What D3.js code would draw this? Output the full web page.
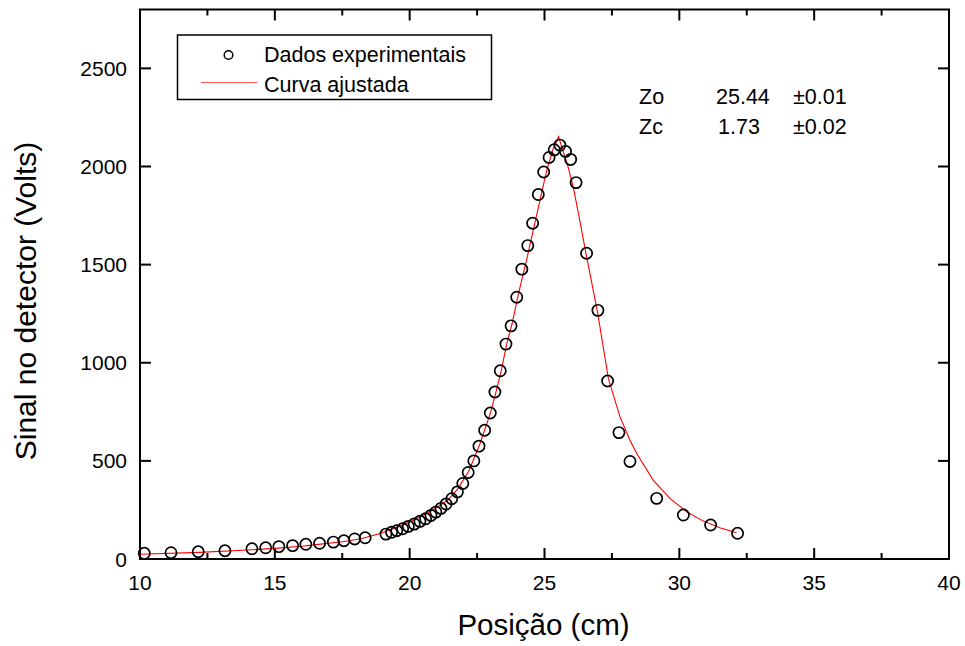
<!DOCTYPE html>
<meta charset="utf-8">
<style>
  body { margin: 0; background: #fff; }
  text { font-family: "Liberation Sans", Arial, sans-serif; fill: #000; }
</style>
<div id="chart"></div>
<script src="https://d3js.org/d3.v7.min.js"></script>
<script>

    // measured points
    var posX = [10.16, 11.15, 12.16, 13.15, 14.15, 14.66, 15.15, 15.66, 16.15, 16.66,
                17.17, 17.56, 17.96, 18.35, 19.12, 19.33, 19.52, 19.74, 19.95, 20.17,
                20.38, 20.59, 20.79, 20.97, 21.16, 21.35, 21.56, 21.77, 21.97, 22.17,
                22.38, 22.57, 22.78, 22.99, 23.16, 23.36, 23.57, 23.76, 23.97, 24.16,
                24.38, 24.56, 24.77, 24.97, 25.17, 25.36, 25.57, 25.78, 25.97, 26.17,
                26.56, 26.98, 27.34, 27.76, 28.17, 29.16, 30.15, 31.16, 32.16];
    var sinal = [29, 32, 37, 42, 52, 57, 63, 68, 75, 80,
                 86, 93, 102, 108, 127, 136, 144, 154, 166, 178,
                 192, 205, 222, 239, 258, 280, 307, 342, 385, 441,
                 500, 575, 656, 744, 851, 959, 1095, 1188, 1334, 1477,
                 1597, 1711, 1857, 1972, 2046, 2085, 2109, 2077, 2036, 1918,
                 1558, 1267, 907, 644, 497, 309, 224, 173, 131];

    // fitted curve
    var fitX = [10.0, 12.2, 14.0, 15.0, 16.0, 16.7, 17.5, 18.2, 18.9, 19.6,
                20.1, 20.6, 21.0, 21.4, 21.8, 22.2, 22.6, 23.0, 23.2, 23.4,
                23.6, 23.8, 24.0, 24.15, 24.36, 24.58, 24.83, 25.08, 25.32, 25.52,
                25.88, 26.07, 26.31, 26.54, 26.96, 27.37, 27.8, 28.17, 28.42, 29.03,
                29.65, 30.27, 30.89, 31.5, 32.12];
    var fitY = [24, 34, 46, 54, 65, 76, 88, 103, 130, 165,
                195, 230, 262, 298, 360, 450, 585, 746, 850, 961,
                1097, 1200, 1331, 1419, 1538, 1674, 1826, 1979, 2089, 2152,
                1995, 1894, 1724, 1555, 1263, 919, 724, 605, 538, 402,
                309, 241, 193, 159, 134];

    var xTicks = [10, 15, 20, 25, 30, 35, 40];
    var xMinor = [12.5, 17.5, 22.5, 27.5, 32.5, 37.5];
    var yTicks = [0, 500, 1000, 1500, 2000, 2500];

    var params = [["Zo", "25.44", "\u00b10.01"],
                  ["Zc", "1.73", "\u00b10.02"]];

    var width = 965, height = 646;
    var margin = {top: 9.5, right: 16, bottom: 87, left: 140};

    var svg = d3.select("#chart").append("svg")
                .attr("width", width)
                .attr("height", height);

    var x = d3.scaleLinear().domain([10, 40]).range([margin.left, width - margin.right]);
    var y = d3.scaleLinear().domain([0, 2800]).range([height - margin.bottom, margin.top]);

    var x0 = x.range()[0], x1 = x.range()[1];
    var y0 = y.range()[0], y1 = y.range()[1];

    // ticks, pointing inward on all four sides
    var tk = svg.append("g").attr("stroke", "#000").attr("stroke-width", 2);
    xTicks.forEach(function(t) {
        tk.append("line").attr("x1", x(t)).attr("x2", x(t)).attr("y1", y0).attr("y2", y0 - 11);
        tk.append("line").attr("x1", x(t)).attr("x2", x(t)).attr("y1", y1).attr("y2", y1 + 11);
    });
    xMinor.forEach(function(t) {
        tk.append("line").attr("x1", x(t)).attr("x2", x(t)).attr("y1", y0).attr("y2", y0 - 6);
        tk.append("line").attr("x1", x(t)).attr("x2", x(t)).attr("y1", y1).attr("y2", y1 + 6);
    });
    yTicks.forEach(function(t) {
        tk.append("line").attr("x1", x0).attr("x2", x0 + 11).attr("y1", y(t)).attr("y2", y(t));
        tk.append("line").attr("x1", x1).attr("x2", x1 - 11).attr("y1", y(t)).attr("y2", y(t));
    });

    svg.append("rect")
       .attr("x", x0).attr("y", y1)
       .attr("width", x1 - x0).attr("height", y0 - y1)
       .attr("fill", "none").attr("stroke", "#000").attr("stroke-width", 2);

    svg.append("g").selectAll("text")
       .data(xTicks).join("text")
       .attr("x", d => x(d)).attr("y", 590)
       .attr("text-anchor", "middle")
       .style("font-size", "21px")
       .text(d => d);

    svg.append("g").selectAll("text")
       .data(yTicks).join("text")
       .attr("x", 127).attr("y", d => y(d))
       .attr("dy", "0.36em")
       .attr("text-anchor", "end")
       .style("font-size", "21px")
       .text(d => d);

    svg.append("text")
       .attr("x", (x0 + x1) / 2 - 1).attr("y", 635)
       .attr("text-anchor", "middle")
       .style("font-size", "29.5px")
       .text("Posição (cm)");

    svg.append("text")
       .attr("transform", "translate(36,301) rotate(-90)")
       .attr("text-anchor", "middle")
       .style("font-size", "30px")
       .text("Sinal no detector (Volts)");

    // fitted curve
    var line = d3.line().x(d => x(d[0])).y(d => y(d[1]));
    svg.append("path")
       .datum(d3.zip(fitX, fitY))
       .attr("d", line)
       .attr("fill", "none")
       .attr("stroke", "#ff0000")
       .attr("stroke-width", 1.1);

    // data points
    svg.append("g").selectAll("circle")
       .data(d3.zip(posX, sinal)).join("circle")
       .attr("cx", d => x(d[0])).attr("cy", d => y(d[1]))
       .attr("r", 5.6)
       .attr("fill", "none")
       .attr("stroke", "#000")
       .attr("stroke-width", 1.7);

    // legend
    var lg = svg.append("g");
    lg.append("rect")
      .attr("x", 177.5).attr("y", 35)
      .attr("width", 314).attr("height", 64.5)
      .attr("fill", "#fff").attr("stroke", "#000").attr("stroke-width", 1.5);
    lg.append("circle")
      .attr("cx", 228.5).attr("cy", 55).attr("r", 4.3)
      .attr("fill", "none").attr("stroke", "#000").attr("stroke-width", 1.5);
    lg.append("line")
      .attr("x1", 201).attr("x2", 257).attr("y1", 82.5).attr("y2", 82.5)
      .attr("stroke", "#ff5555").attr("stroke-width", 1);
    lg.append("text").attr("x", 264).attr("y", 61.5)
      .style("font-size", "21.5px").text("Dados experimentais");
    lg.append("text").attr("x", 264).attr("y", 91.5)
      .style("font-size", "21.5px").text("Curva ajustada");

    // fit parameters
    var colX = [639, 716, 793];
    var pg = svg.append("g");
    params.forEach(function(row, i) {
        row.forEach(function(s, j) {
            pg.append("text")
              .attr("x", colX[j] + (j == 1 && i == 1 ? 2 : 0))
              .attr("y", 103.5 + i * 30)
              .style("font-size", "21.5px")
              .text(s);
        });
    });

</script>
